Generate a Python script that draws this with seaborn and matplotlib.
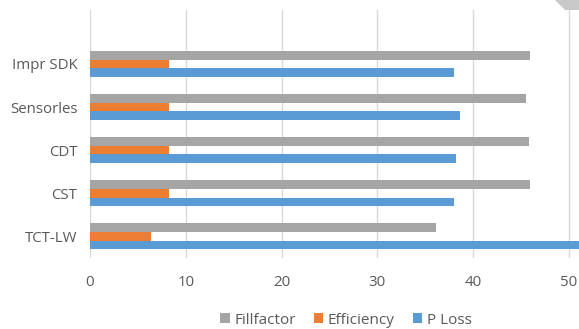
import matplotlib
matplotlib.use('Agg')
import matplotlib.pyplot as plt
from matplotlib.patches import Patch, Polygon
import seaborn as sns
import pandas as pd

categories = ['Impr SDK', 'Sensorles', 'CDT', 'CST', 'TCT-LW']
fillfactor = [45.9, 45.5, 45.8, 45.9, 36.1]
efficiency = [8.2, 8.2, 8.2, 8.2, 6.4]
p_loss = [38.0, 38.6, 38.2, 38.0, 55.0]
series = ['Fillfactor', 'Efficiency', 'P Loss']
colors = ['#A5A5A5', '#ED7D31', '#5B9BD5']
x_ticks = [0, 10, 20, 30, 40, 50, 60]

rows = []
for name, vals in zip(series, [fillfactor, efficiency, p_loss]):
    for cat, v in zip(categories, vals):
        rows.append({'Category': cat, 'Series': name, 'Value': v})
df = pd.DataFrame(rows)

sns.set_theme(style='white')
plt.rcParams['font.family'] = ['Open Sans', 'DejaVu Sans']
text_color = '#595959'

fig = plt.figure(figsize=(5.79, 3.29), dpi=100)
# the source image is cropped on the right, so the axes run past the figure edge
ax = fig.add_axes([90 / 579, 1 - 258 / 329, 60 * 9.58 / 579, 248 / 329])

sns.barplot(data=df, x='Value', y='Category', hue='Series', order=categories,
            hue_order=series, palette=colors, orient='h', width=0.6,
            ax=ax, legend=False, saturation=1, linewidth=0)

ax.set_xlim(0, 60)
ax.set_ylim(4.5, -1.25)
ax.set_xticks(x_ticks)
ax.xaxis.grid(True, color='#D9D9D9', linewidth=1)
ax.set_axisbelow(True)
for s in ax.spines.values():
    s.set_visible(False)
ax.set_xlabel('')
ax.set_ylabel('')
ax.tick_params(axis='both', length=0, labelsize=10.8, labelcolor=text_color)
ax.tick_params(axis='y', pad=9)
ax.tick_params(axis='x', pad=12)

handles = [Patch(facecolor=c, edgecolor='none', label=s) for s, c in zip(series, colors)]
fig.legend(handles=handles, loc='center', bbox_to_anchor=(346 / 579, 1 - 320 / 329),
           ncol=3, frameon=False, fontsize=11, labelcolor=text_color,
           handlelength=0.6, handleheight=0.6, handletextpad=0.3, columnspacing=1.2)

corner = Polygon([(555 / 579, 1.0), (1.0, 1.0), (1.0, 1 - 10 / 329), (565 / 579, 1 - 10 / 329)],
                 closed=True, transform=fig.transFigure, facecolor='#C8C8C8', edgecolor='none')
fig.patches.append(corner)

fig.savefig('out.png', dpi=100)
